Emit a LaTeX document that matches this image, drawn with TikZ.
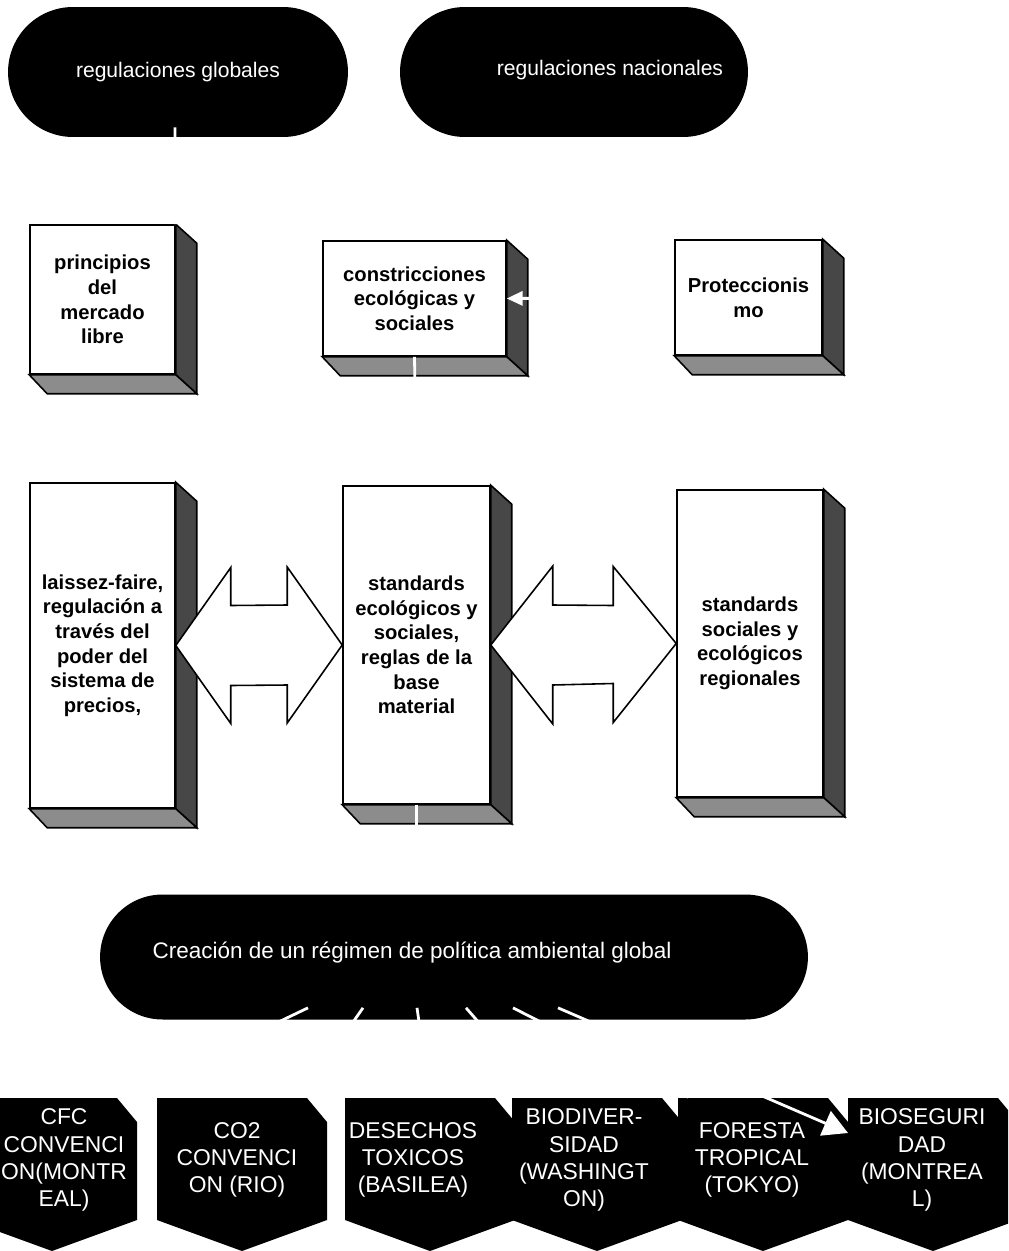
\documentclass[tikz,border=0pt]{standalone}
\usepackage{fontspec}
\setmainfont{Liberation Sans}
\usetikzlibrary{calc,arrows.meta,shapes.misc}
\tikzset{
  front/.style={draw=black, line width=0.9pt, fill=white, align=center, inner sep=2pt,
    font=\fontsize{11.5}{14}\selectfont\bfseries},
  sideface/.style={draw=black, line width=0.9pt, fill=black!72},
  baseface/.style={draw=black, line width=0.9pt, fill=black!45},
  pill/.style={rounded rectangle, fill=black, inner sep=0pt, text=white,
    font=\fontsize{12}{14}\selectfont},
  pilltext/.style={text=white, font=\fontsize{12}{14}\selectfont},
  tab/.style={fill=black},
  tabtext/.style={text=white, align=center, font=\fontsize{13}{15.5}\selectfont},
  ghost/.style={draw=white, line width=1.6pt},
  twoway/.style={draw=black, line width=0.9pt, fill=white, line join=miter}
}
\begin{document}
\begin{tikzpicture}[x=0.02cm,y=-0.02cm]
\useasboundingbox (0,0) rectangle (1008,1251);
\clip (0,0) rectangle (1008,1251);
% top ovals
\node[pill, minimum width=6.8cm, minimum height=2.6cm] (glob) at (178,72) {regulaciones globales};
\node[pill, minimum width=6.96cm, minimum height=2.6cm] (natl) at (574,72) {};
\node[pilltext] (natltext) at (610,70) {regulaciones nacionales};
% first row of boxes
\node[front, minimum width=2.90cm, minimum height=2.98cm] (prin) at (102.5,299.5) {principios\\del\\mercado\\libre};
\node[front, minimum width=3.66cm, minimum height=2.30cm] (cons) at (414.5,298.5) {constricciones\\ecológicas y\\sociales};
\node[front, minimum width=2.94cm, minimum height=2.30cm] (prot) at (748.5,297.5) {Proteccionis\\mo};
% second row of boxes
\node[front, minimum width=2.90cm, minimum height=6.50cm] (lais) at (102.5,645.5) {laissez-faire,\\regulación a\\través del\\poder del\\sistema de\\precios,};
\node[front, minimum width=2.94cm, minimum height=6.36cm] (stan) at (416.5,645) {standards\\ecológicos y\\sociales,\\reglas de la\\base\\material};
\node[front, minimum width=2.92cm, minimum height=6.14cm] (regi) at (750,643.5) {standards\\sociales y\\ecológicos\\regionales};
% depth of the boxes
\foreach \b in {prin,cons,prot,lais,stan,regi}{
  \filldraw[sideface] (\b.north east) -- ++(21,19) -- ($(\b.south east)+(21,19)$) -- (\b.south east) -- cycle;
  \filldraw[baseface] (\b.south west) -- ++(18,19) -- ($(\b.south east)+(21,19)$) -- (\b.south east) -- cycle;
}
% double arrows
\draw[twoway] (lais.east) -- ++(55,-78) -- ++(0,38) -- ($(stan.west)+(-55,-40)$) -- ++(0,-38) -- (stan.west)
  -- ++(-55,78) -- ++(0,-38) -- ($(lais.east)+(55,40)$) -- ++(0,38) -- cycle;
\draw[twoway] (stan.east) -- ++(62,-79) -- ++(0,39) -- ($(regi.west)+(-63,-38)$) -- ++(0,-39) -- (regi.west)
  -- ++(-63,79) -- ++(0,-39) -- ($(stan.east)+(62,40)$) -- ++(0,39) -- cycle;
% bottom oval
\node[pill, minimum width=14.16cm, minimum height=2.5cm] (regime) at (454,957) {};
\node[pilltext, font=\fontsize{12.8}{15}\selectfont] (regimetext) at (412,953) {Creación de un régimen de política ambiental global};
% conventions: left x / name / connector x / text x / label
\foreach \lx/\nm/\ax/\tx/\lbl in {-33/cfc/153/97/{CFC\\CONVENCI\\ON(MONTR\\EAL)},
    157/cotwo/143/80/{CO2\\CONVENCI\\ON (RIO)},
    345/tox/85/68/{DESECHOS\\TOXICOS\\(BASILEA)},
    512/bio/33/72/{BIODIVER-\\SIDAD\\(WASHINGT\\ON)},
    678/forest/12/74/{FORESTA\\TROPICAL\\(TOKYO)},
    848/bios/85/74/{BIOSEGURI\\DAD\\(MONTREA\\L)}}{
  \fill[tab] (\lx,1098) -- ++(150,0) -- ++(20,24) -- ++(0,98) -- ++(-85,31) -- ++(-85,-31) -- cycle;
  \coordinate (\nm top) at (\lx+\ax,1098);
  \node[tabtext] (\nm) at (\lx+\tx,1160) {\lbl};
}
\coordinate (bios west) at (848,1133);
% white connectors
\draw[ghost] ($(glob.south)+(-3,-10)$) -- (prin.north east);
\draw[ghost, -{Triangle[length=9pt,width=8pt]}, shorten <=1.5pt] (prot.west) -- (cons.east);
\draw[ghost, shorten >=1.5pt] (cons.south) -- (stan.north);
\draw[ghost] (stan.south) -- (stan.south |- regime.north);
\foreach \dx/\nm in {-146/cfc, -91/cotwo, -37/tox, 12/bio, 59/forest}
  \draw[ghost, shorten >=1pt] ($(regime.south)+(\dx,-12)$) -- (\nm top);
\draw[ghost, -{Triangle[length=14pt,width=15pt]}] ($(regime.south)+(104,-12)$) -- (bios west);
\end{tikzpicture}
\end{document}
